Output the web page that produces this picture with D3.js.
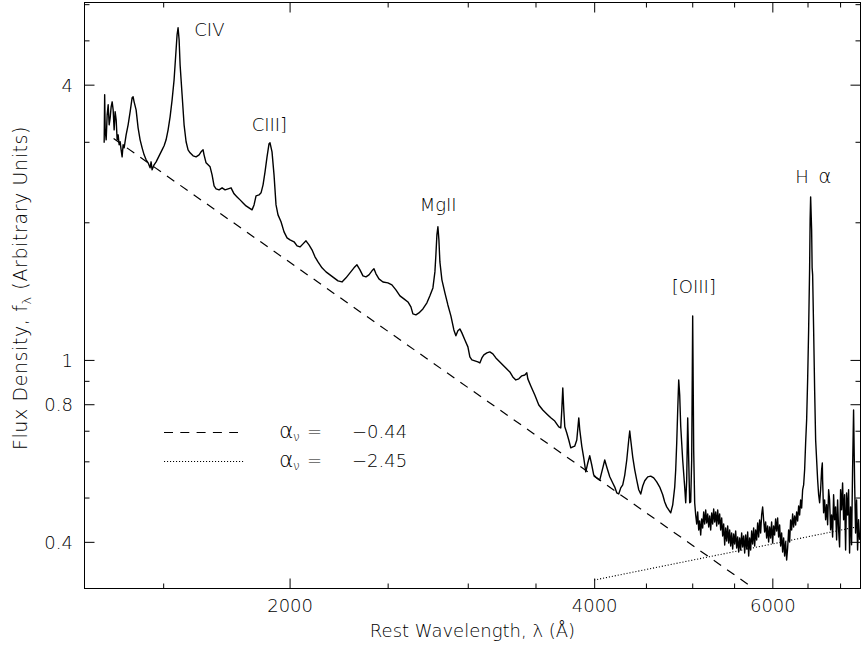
<!DOCTYPE html>
<html><head><meta charset="utf-8">
<script src="https://cdn.jsdelivr.net/npm/d3@7"></script>
<style>
body{margin:0;background:#fff}
text{font-family:"DejaVu Sans",sans-serif;font-weight:200;fill:#000;font-size:18px;opacity:0.999}
</style>
</head><body><svg id="c" width="862" height="646"></svg>
<script>
// ---- data ----
const wavelength = [1311.5,1313.0,1314.5,1317.5,1320.5,1323.5,1326.5,1329.5,1332.5,1335.6,1338.6,1341.6,1344.7,1347.8,1350.8,1353.9,1357.0,1360.0,1363.1,1366.2,1369.3,1372.5,1378.7,1385.0,1391.3,1397.6,1400.8,1404.0,1410.4,1416.8,1423.3,1429.8,1436.3,1442.9,1449.4,1456.0,1459.3,1462.7,1469.3,1476.1,1482.8,1489.5,1496.3,1503.2,1510.0,1516.9,1523.8,1530.8,1537.7,1544.7,1548.2,1551.7,1555.4,1558.9,1566.0,1573.1,1580.3,1587.4,1594.7,1605.6,1616.7,1627.7,1635.1,1642.6,1646.2,1653.8,1661.4,1669.0,1676.6,1684.2,1691.9,1703.5,1715.2,1726.9,1738.9,1750.6,1762.6,1774.7,1786.8,1799.0,1811.3,1823.7,1836.2,1844.6,1853.0,1865.6,1874.2,1882.8,1891.3,1899.9,1908.5,1912.9,1921.6,1930.4,1939.2,1948.0,1961.4,1974.9,1988.5,2002.0,
2020.4,2034.3,2048.0,2062.0,2076.1,2090.3,2104.6,2119.0,2133.6,2153.1,2172.8,2192.6,2212.7,2233.0,2253.3,2274.0,2294.6,2315.6,2331.4,2347.4,2363.5,2379.7,2396.0,2412.4,2423.4,2434.5,2451.0,2473.5,2501.6,2524.4,2547.5,2571.0,2594.5,2618.2,2636.0,2648.0,2666.2,2684.4,2708.9,2733.7,2752.4,2771.3,2783.9,2790.2,2796.6,2803.0,2809.3,2815.7,2828.6,2848.0,2867.3,2887.0,2906.7,2920.0,2933.3,2946.7,2960.2,2980.5,3001.0,3014.4,3028.2,3048.9,3069.8,3083.8,3097.9,3112.0,3133.4,3154.6,3176.3,3198.1,3220.0,3241.9,3271.6,3301.4,3324.0,3346.8,3369.6,3392.8,3416.0,3431.6,3439.5,3462.9,3494.6,3526.4,3558.6,3591.0,3624.0,3657.0,3690.5,3707.3,3715.8,3724.3,3732.8,3741.3,3758.4,3775.4,3792.6,3810.0,3827.3,3844.8,3862.4,3871.0,3888.7,3906.5,3924.4,3942.2,3960.0,3978.1,3996.2,4023.6,4051.0,4078.8,4097.4,4116.1,4144.4,4172.7,4191.8,4210.9,4230.1,4249.4,4268.8,4288.3,4307.9,4327.3,4337.2,4347.1,4366.9,4386.9,4406.9,4427.0,4447.1,4467.4,4487.8,4518.6,4549.4,4580.6,4611.9,4643.5,4675.3,4696.6,4718.1,4739.6,4761.1,4782.9,4804.7,4815.6,4826.6,4837.6,4848.6,4859.5,4870.6,4892.8,4915.1,4926.3,4937.5,4948.8,4960.1,4971.3,4982.6,4993.9,5005.2,5016.6,5028.0,
5039.6,5051.1,5062.6,5074.2,5085.6,5097.2,5108.8,5120.5,5132.2,5143.9,5155.6,5167.4,5179.2,5191.0,5202.6,5214.5,5226.4,5238.3,5250.2,5262.2,5274.2,5286.2,5298.3,5310.4,5322.3,5334.4,5346.6,5358.8,5371.0,5383.3,5395.6,5407.9,5420.2,5432.6,5444.7,5457.1,5469.5,5482.0,5494.5,5507.0,5519.6,5532.2,5544.8,5557.4,5570.0,5582.7,5595.4,5608.2,5621.0,5633.8,5646.7,5659.6,5672.5,5685.4,5698.0,5711.0,5724.0,5737.1,5750.2,5763.3,5776.4,5789.6,5802.8,5816.0,5829.0,5842.3,5855.6,5869.0,5882.4,5895.8,5909.2,5922.7,5936.2,5949.7,5963.0,5976.6,5990.2,6003.9,6017.6,6031.3,6045.1,6058.9,6072.7,6086.5,6100.5,6114.4,6128.3,6142.3,6156.3,6170.3,6184.4,6198.5,6212.6,6226.8,6240.8,6255.0,6269.3,6283.6,6297.9,6312.3,6326.7,6341.1,6355.6,6370.1,6384.4,6399.0,6413.6,6428.2,6442.9,
6457.5,6472.2,6487.0,6501.8,6516.6,6531.3,6538.8,6546.3,6561.2,6568.7,6576.2,6591.2,6606.2,6621.3,6636.4,6651.5,6666.7,6681.5,6696.7,6712.0,6722.8,6727.3,6742.6,6758.0,6773.5,6788.9,6804.4,6819.9,6835.0,6850.6,6866.2,6881.9,6897.6,6913.3,6929.1,6944.9,6960.7,6976.6,6992.3,7008.2,7024.2,7040.2,7056.3,7072.3,7088.5,7104.6,7120.8,7137.1,7153.0,7169.3,7185.6,7202.0,7218.4,7234.9,7251.4,7267.9,7284.5,7301.1,7318.0];
const flux = [2.985,3.801,3.186,3.030,3.436,3.614,3.268,3.385,3.577,3.669,3.524,3.186,3.489,3.351,3.030,3.107,2.955,3.000,2.881,2.781,2.955,2.910,3.107,3.268,3.489,3.744,3.763,3.669,3.524,3.218,3.030,2.910,2.809,2.739,2.698,2.631,2.712,2.605,2.671,2.712,2.767,2.823,2.881,2.940,3.030,3.186,3.402,3.706,4.099,4.768,5.143,5.327,5.014,4.420,3.801,3.268,3.000,2.881,2.838,2.795,2.781,2.809,2.852,2.881,2.809,2.698,2.671,2.644,2.540,2.403,2.367,2.355,2.379,2.355,2.367,2.379,2.308,2.273,2.239,2.205,2.172,2.150,2.129,2.183,2.285,2.296,2.320,2.415,2.579,2.781,2.970,2.985,2.852,2.540,2.183,2.076,2.005,1.906,1.849,1.831,
1.813,1.776,1.767,1.794,1.822,1.785,1.741,1.681,1.638,1.590,1.558,1.535,1.512,1.489,1.481,1.512,1.550,1.590,1.614,1.574,1.527,1.519,1.535,1.566,1.582,1.543,1.504,1.481,1.474,1.459,1.423,1.381,1.360,1.339,1.306,1.261,1.255,1.267,1.293,1.333,1.381,1.437,1.558,1.698,1.877,1.955,1.831,1.638,1.497,1.402,1.319,1.248,1.163,1.129,1.158,1.169,1.146,1.106,1.068,1.015,1.000,0.995,0.990,0.985,1.010,1.026,1.036,1.041,1.031,1.010,0.995,0.980,0.960,0.941,0.918,0.904,0.909,0.923,0.927,0.937,0.909,0.877,0.838,0.797,0.777,0.762,0.747,0.735,0.714,0.710,0.777,0.868,0.777,0.714,0.692,0.668,0.642,0.645,0.648,0.668,0.747,0.703,0.648,0.610,0.569,0.595,0.617,0.589,0.560,0.552,0.546,0.580,0.604,0.583,0.555,0.538,0.527,0.512,0.509,0.525,0.533,0.560,0.604,0.668,0.699,0.668,0.613,0.575,0.546,0.520,0.509,0.530,0.544,0.555,0.557,0.552,0.541,0.527,0.507,0.489,0.477,0.470,0.463,0.482,0.527,0.575,0.658,0.777,0.904,0.838,0.717,0.604,0.527,0.487,0.546,0.747,0.604,0.487,0.489,0.604,1.248,0.635,0.487,
0.4580,0.4377,0.4650,0.4246,0.4444,0.4140,0.4489,0.4289,0.4650,0.4377,0.4697,0.4399,0.4603,0.4311,0.4557,0.4246,0.4627,0.4377,0.4720,0.4421,0.4650,0.4333,0.4697,0.4377,0.4603,0.4246,0.4511,0.4119,0.4377,0.3937,0.4289,0.4018,0.4333,0.3977,0.4246,0.3918,0.4182,0.3859,0.4161,0.3957,0.4225,0.3878,0.4099,0.3800,0.4078,0.3839,0.4182,0.3898,0.4119,0.3781,0.4140,0.3859,0.4203,0.3724,0.4078,0.3839,0.4225,0.3957,0.4289,0.3918,0.4246,0.4038,0.4399,0.4099,0.4466,0.4182,0.4580,0.4768,0.4466,0.4203,0.4421,0.4078,0.4333,0.3998,0.4311,0.4078,0.4421,0.3977,0.4333,0.4140,0.4489,0.4225,0.4511,0.4099,0.4355,0.3918,0.4182,0.3800,0.4078,0.3724,0.3998,0.3651,0.3878,0.4246,0.3998,0.4466,0.4246,0.4603,0.4311,0.4557,0.4355,0.4650,0.4444,0.4792,0.4580,0.4939,0.4744,0.5195,0.5327,
0.575,0.658,0.739,0.904,1.163,1.590,2.025,2.273,1.925,1.590,1.535,1.163,0.860,0.668,0.604,0.546,0.507,0.487,0.520,0.575,0.595,0.546,0.463,0.494,0.447,0.482,0.436,0.520,0.494,0.425,0.458,0.410,0.507,0.447,0.477,0.404,0.494,0.425,0.390,0.520,0.470,0.538,0.447,0.507,0.384,0.512,0.458,0.520,0.378,0.477,0.394,0.575,0.777,0.546,0.418,0.494,0.384,0.447,0.404];

const xTicks = [1500,2000,2500,3000,3500,4000,4500,5000,5500,6000,6500,7000];
const xTickLabels = [2000,4000,6000];
const yTicks = [0.4,0.5,0.6,0.7,0.8,0.9,1,2,3,4,5,6];
const yTickLabels = [0.4,0.8,1,4];

const lineNames = ["CIV","CIII]","MgII","[OIII]","H"];
const lineWavelengths = [1549,1909,2798,5007,6563];

const powerLawAlpha = ["\u22120.44","\u22122.45"];
const powerLawWave = [[1340,5750],[4000,7258]];
const powerLawFlux = [[3.05,0.3165],[0.330,0.431]];

// ---- layout ----
const svg = d3.select("#c");
const F = {left:84.5,right:860.5,top:2.5,bottom:588.5};
const x = d3.scaleLog().domain([1254.1,7333]).range([F.left,F.right]);
const y = d3.scaleLog().domain([0.31623,6.0505]).range([F.bottom,F.top]);

svg.append("defs").append("clipPath").attr("id","clip")
  .append("rect").attr("x",F.left).attr("y",F.top)
  .attr("width",F.right-F.left).attr("height",F.bottom-F.top);

function axis(gen, tr, vals, size, labels, pad){
  const g = svg.append("g").attr("transform",tr)
    .call(gen.tickValues(vals).tickSizeInner(size).tickSizeOuter(0).tickPadding(pad)
      .tickFormat(labels ? (d=> labels.includes(d)? String(d):"") : ()=>""));
  g.select(".domain").remove();
  g.selectAll("line").attr("stroke","#000").attr("stroke-width",1);
  return g;
}
const minorX = xTicks.filter(d=>!xTickLabels.includes(d));
const minorY = yTicks.filter(d=>!yTickLabels.includes(d));
axis(d3.axisBottom(x), `translate(0,${F.bottom})`, minorX, -5, null, 3);
axis(d3.axisBottom(x), `translate(0,${F.bottom})`, xTickLabels, -10, xTickLabels, 10.8);
axis(d3.axisTop(x), `translate(0,${F.top})`, minorX, -5, null, 3);
axis(d3.axisTop(x), `translate(0,${F.top})`, xTickLabels, -10, null, 3);
axis(d3.axisLeft(y), `translate(${F.left},0)`, minorY, -5, null, 3);
const gl = axis(d3.axisLeft(y), `translate(${F.left},0)`, yTickLabels, -10, yTickLabels, 11.5);
gl.selectAll("text").attr("dy","0.36em");
axis(d3.axisRight(y), `translate(${F.right},0)`, minorY, -5, null, 3);
axis(d3.axisRight(y), `translate(${F.right},0)`, yTickLabels, -10, null, 3);

svg.append("rect").attr("x",F.left).attr("y",F.top)
  .attr("width",F.right-F.left).attr("height",F.bottom-F.top)
  .attr("fill","none").attr("stroke","#000").attr("stroke-width",1);

// power laws
const styles = [{dash:"9,7.3",w:1.2},{dash:"1.1,1.9",w:1.1}];
const pl = d3.line().x(d=>x(d[0])).y(d=>y(d[1]));
powerLawWave.forEach((w,i)=>{
  svg.append("path").attr("clip-path","url(#clip)")
    .attr("d", pl(w.map((v,j)=>[v,powerLawFlux[i][j]])))
    .attr("fill","none").attr("stroke","#000")
    .attr("stroke-width",styles[i].w).attr("stroke-dasharray",styles[i].dash);
});

// spectrum
const spec = wavelength.map((w,i)=>[w,flux[i]]);
svg.append("path").attr("clip-path","url(#clip)")
  .attr("d", d3.line().x(d=>x(d[0])).y(d=>y(d[1]))(spec))
  .attr("fill","none").attr("stroke","#000").attr("stroke-width",1.4)
  .attr("stroke-linejoin","round");

// line labels
const labLayout = [{dx:17,by:36,a:"start"},{dx:-17.5,by:131,a:"start"},{dx:1,by:211,a:"middle"},{dx:1,by:293,a:"middle"},{dx:-16.5,by:183,a:"start"}];
lineNames.forEach((n,i)=>{
  const L = labLayout[i];
  svg.append("text").attr("x",x(lineWavelengths[i])+L.dx).attr("y",L.by)
    .attr("text-anchor",L.a).text(n);
  if(i===4){
    svg.append("text").attr("x",x(lineWavelengths[i])+6.5).attr("y",L.by)
      .style("font-size","20px").text("\u03b1");
  }
});

// legend
const legRows = [432.5,461.5];
legRows.forEach((ly,i)=>{
  svg.append("line").attr("x1",164).attr("x2",i===0?238:244).attr("y1",ly).attr("y2",ly)
    .attr("stroke","#000").attr("stroke-width",styles[i].w).attr("stroke-dasharray",styles[i].dash);
  const by = ly+5.5;
  svg.append("text").attr("x",279).attr("y",by).style("font-size","22px").text("\u03b1");
  svg.append("text").attr("x",293).attr("y",by+3).style("font-size","12px").text("\u03bd");
  svg.append("text").attr("x",307).attr("y",by).text("=");
  svg.append("text").attr("x",352).attr("y",by).text(powerLawAlpha[i]);
});

// axis titles
svg.append("text").attr("x",(F.left+F.right)/2).attr("y",637).attr("text-anchor","middle")
  .text("Rest Wavelength, \u03bb (\u00c5)");
const yt = svg.append("text").attr("transform",`translate(27,288) rotate(-90)`)
  .attr("text-anchor","middle").style("font-size","19px").style("letter-spacing","0.6px");
yt.append("tspan").text("Flux Density, f");
yt.append("tspan").attr("dy",4).style("font-size","13px").text("\u03bb");
yt.append("tspan").attr("dy",-4).text(" (Arbitrary Units)");
</script>
</body></html>
